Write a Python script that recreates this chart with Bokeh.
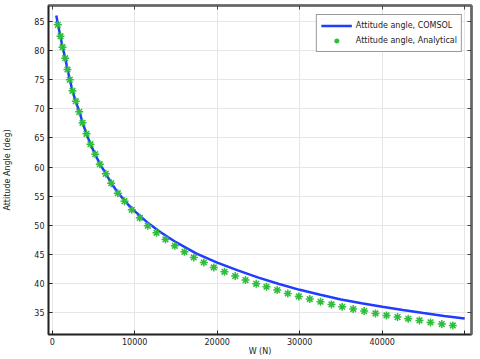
from bokeh.plotting import figure
from bokeh.models import (LinearAxis, FixedTicker, Legend, LegendItem, Range1d, Grid)
from bokeh.embed import file_html
from bokeh.resources import INLINE

# --- data ---
comsol_w = [500, 700, 1000, 1250, 1600, 1850, 2150, 2450, 2850, 3300, 3700,
            4150, 4650, 5200, 5800, 6500, 7150, 7950, 8750, 9650, 10000, 11500,
            13100, 15000, 17500, 20000, 22500, 25000, 27500, 30000, 32500, 35000,
            37500, 40000, 42500, 45000, 47500, 50000]
comsol_angle = [86.1, 84.5, 82.5, 80.6, 78.7, 76.8, 75.0, 73.1, 71.3, 69.5, 67.6,
                65.7, 63.9, 62.2, 60.5, 58.85, 57.25, 55.6, 54.25, 52.85, 52.4, 50.5,
                48.8, 47.05, 45.1, 43.55, 42.2, 40.95, 39.85, 38.85, 38.0, 37.2,
                36.55, 35.95, 35.38, 34.85, 34.35, 33.9]

anal_w = [680, 1006, 1248, 1576, 1855, 2133, 2461, 2861, 3273, 3673, 4158, 4642,
          5212, 5770, 6497, 7152, 7952, 8764, 9648, 10618, 11588, 12642, 13733,
          14861, 16036, 17164, 18376, 19588, 20885, 22182, 23430, 24727, 25976,
          27273, 28558, 29891, 31224, 32521, 33855, 35152, 36485, 37818, 39188,
          40521, 41855, 43152, 44521, 45855, 47224, 48558]
anal_angle = [84.48, 82.52, 80.63, 78.73, 76.79, 75.01, 73.12, 71.33, 69.50, 67.61,
              65.72, 63.93, 62.20, 60.48, 58.83, 57.21, 55.49, 54.11, 52.63, 51.25,
              49.88, 48.67, 47.53, 46.43, 45.40, 44.42, 43.56, 42.70, 41.96, 41.22,
              40.53, 39.89, 39.38, 38.81, 38.22, 37.71, 37.26, 36.80, 36.33, 35.94,
              35.54, 35.20, 34.78, 34.44, 34.16, 33.87, 33.58, 33.24, 32.96, 32.72]

x_ticks = [0, 10000, 20000, 30000, 40000, 50000]
x_tick_labels = {0: "0", 10000: "10000", 20000: "20000", 30000: "30000",
                 40000: "40000", 50000: ""}
y_ticks = [35, 40, 45, 50, 55, 60, 65, 70, 75, 80, 85]

x_label = "W (N)"
y_label = "Attitude Angle (deg)"
legend_labels = ["Attitude angle, COMSOL", "Attitude angle, Analytical"]

FONT = "DejaVu Sans"

p = figure(width=480, height=359, output_backend="svg", toolbar_location=None,
           x_range=Range1d(-448, 50824), y_range=Range1d(31.16, 87.81),
           x_axis_location=None, y_axis_location=None,
           min_border_left=48, min_border_right=9, min_border_top=5,
           min_border_bottom=25)
p.background_fill_color = "white"
p.border_fill_color = "white"
p.outline_line_color = "#666666"
p.outline_line_width = 2

def style_axis(ax, show_labels):
    ax.major_tick_in = 4
    ax.major_tick_out = 0
    ax.minor_tick_in = 0
    ax.minor_tick_out = 0
    ax.axis_line_color = "#222222"
    ax.major_tick_line_color = "#222222"
    ax.major_label_text_font = FONT
    ax.major_label_text_color = "#222222"
    ax.axis_label_text_font = FONT
    ax.axis_label_text_font_style = "normal"
    ax.axis_label_text_color = "#222222"
    if not show_labels:
        ax.major_label_overrides = {t: "" for t in ax.ticker.ticks}
        ax.major_label_text_font_size = "1px"
        ax.major_label_standoff = 0
        ax.axis_line_color = "#666666"
        ax.axis_line_width = 2.5
        ax.major_tick_line_color = "#444444"

xb = LinearAxis(ticker=FixedTicker(ticks=x_ticks), axis_label=x_label)
style_axis(xb, True)
xb.major_label_overrides = x_tick_labels
xb.major_label_text_font_size = "8px"
xb.major_label_standoff = 3
xb.axis_label_text_font_size = "8px"
xb.axis_label_standoff = -1
xb.axis_line_width = 1.5
p.add_layout(xb, "below")

yl = LinearAxis(ticker=FixedTicker(ticks=y_ticks), axis_label=y_label)
style_axis(yl, True)
yl.major_label_text_font_size = "8px"
yl.major_label_standoff = 4
yl.axis_label_text_font_size = "8px"
yl.axis_label_standoff = 19
yl.axis_line_width = 1.5
p.add_layout(yl, "left")

yr = LinearAxis(ticker=FixedTicker(ticks=y_ticks))
style_axis(yr, False)
p.add_layout(yr, "right")

xt = LinearAxis(ticker=FixedTicker(ticks=x_ticks))
style_axis(xt, False)
p.add_layout(xt, "above")

p.xgrid.visible = False
p.ygrid.visible = False
p.add_layout(Grid(dimension=0, ticker=FixedTicker(ticks=x_ticks),
                  grid_line_color="#e6e6e6", grid_line_width=1))
p.add_layout(Grid(dimension=1, ticker=FixedTicker(ticks=y_ticks),
                  grid_line_color="#e6e6e6", grid_line_width=1))

r_line = p.line(comsol_w, comsol_angle, line_color="#1f3cff", line_width=2.5)
r_pts = p.scatter(anal_w, anal_angle, marker="asterisk", size=8,
                  line_color="#2fbd3c", line_width=1.5)

legend = Legend(items=[LegendItem(label=legend_labels[0], renderers=[r_line]),
                       LegendItem(label=legend_labels[1], renderers=[r_pts])],
                location="top_right")
legend.label_text_font = FONT
legend.label_text_font_size = "8px"
legend.label_text_color = "#222222"
legend.border_line_color = "#333333"
legend.border_line_width = 1.5
legend.glyph_width = 31
legend.glyph_height = 13
legend.label_standoff = 4
legend.label_height = 13
legend.spacing = 2
legend.padding = 4
legend.margin = 9
p.add_layout(legend)

open("out.html", "w").write(file_html(p, INLINE))
